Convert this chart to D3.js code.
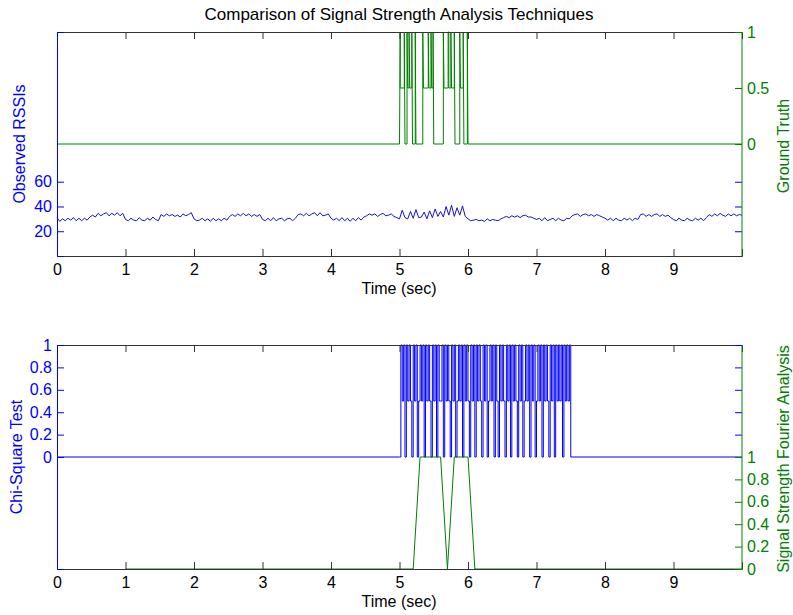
<!DOCTYPE html>
<html>
<head>
<meta charset="utf-8">
<script src="https://cdn.jsdelivr.net/npm/d3@7"></script>
<style>
html,body{margin:0;padding:0;background:#fff;}
svg{display:block;font-family:"Liberation Sans",Arial,sans-serif;}
</style>
</head>
<body>
<svg id="chart" width="793" height="615"></svg>
<script>
// ---------------- DATA ----------------
const titleText = "Comparison of Signal Strength Analysis Techniques";
const xLabel = "Time (sec)";
const xTicks = [0,1,2,3,4,5,6,7,8,9];

// Observed RSSI, sampled every 0.04 s from 0 to 10 s
const rssiStart = 0, rssiStep = 0.04;
const rssiValues = [
 31,28,30,28.5,30.5,29,31,28.5,30.5,28.5,30.5,29,31.5,
 33,31.5,34.5,32.5,34,35,32.5,34.5,33,35,32.5,34.5,
 29.5,28.5,30.5,29,28.5,31,29,28.5,30.5,29,31.5,29.5,28.5,
 33.5,32,34,32.5,33.5,32,33,31.5,34,32.5,33.5,35,
 30,28.5,29,30.5,28.5,30,28,30.5,28.5,30,28.5,30.5,29,
 32,33.5,32,34,32.5,34.5,32.5,34,32,33.5,32,33.5,
 29.5,28.5,30.5,28.5,31,28.5,30,30.5,28.5,30,30.5,28.5,30.5,
 33.5,34,32.5,34.5,32.5,34,35,32.5,35,32.5,33,34,
 30.5,29,30.5,28.5,31,28.5,30.5,28,30.5,28.5,31,29,31.5,
 32.5,34,33,34,32,33.5,34.5,32.5,33,34,32,31,
 30,37,31,30,36,30.5,37.5,31,31.5,35.5,30,36.5,31,38,32,36,31.5,40,33,41,32,39,33,40.5,32,
 30,28.5,29,29.5,28.5,29,28,30,28.5,29.5,29,28.5,30,
 31,32,31,32.5,31.5,32.5,31,32.5,33,31.5,31.5,30.5,
 29.5,30.5,28.5,31,28.5,29.5,30.5,28.5,30.5,29,28.5,30.5,30,
 32.5,33.5,34,32,33.5,34,32.5,33.5,32,33.5,32.5,31.5,
 30.5,29,30.5,28.5,30.5,29,28.5,30.5,29,30.5,28.5,30.5,29.5,
 33.5,34,32,33.5,32,33.5,34,32,33.5,32,33,31,
 29.5,28.5,30.5,29,28.5,30.5,29,28.5,30.5,29,30.5,28.5,31,
 33.5,32,34,32.5,34.5,33,32,34,32.5,34,32.5,33.5,33
];
const rssiTicks = [20,40,60];

// Ground truth (breakpoints)
const gtTimes = [0,5.00,5.01,5.01,5.07,5.07,5.08,5.11,5.11,5.12,5.14,5.14,5.15,5.18,5.18,5.19,5.23,5.23,5.24,5.34,5.34,5.35,5.42,5.42,5.43,5.46,5.46,5.47,5.49,5.49,5.50,5.64,5.64,5.65,5.71,5.71,5.72,5.72,5.75,5.75,5.76,5.80,5.80,5.81,5.88,5.88,5.89,5.93,5.93,5.94,5.99,5.99,6.00,10];
const gtValues = [0,0,1,0.5,0.5,1,0,0,1,0.5,0.5,1,0.5,0.5,1,0,0,1,0,0,1,0.5,0.5,1,0.5,0.5,1,0.5,0.5,1,0,0,1,0.5,0.5,1,1,0.5,0.5,1,0.5,0.5,1,0,0,1,0.5,0.5,1,0,0,1,0,0];
const gtTicks = [0,0.5,1];

// Chi-square test output, sampled every 0.02 s from 5.00 to 7.50 s (zero elsewhere)
const chiStart = 5.0, chiStep = 0.02;
const chiValues = [
 0,1,0.5,1,0,1,0.5,1,0.5,0,1,0.5,1,0,0.5,1,0.5,1,0,1,
 0.5,1,0.5,0,1,0.5,1,0,1,0.5,0.5,1,0,1,0.5,1,0.5,0,1,0.5,
 1,0,0.5,1,0.5,1,0,1,0.5,1,0.5,0,1,0.5,1,0,1,0.5,1,0.5,
 0,1,0.5,1,0,0.5,1,0.5,1,0,1,0.5,0,1,0.5,1,0.5,0,1,0.5,
 1,0,1,0.5,1,0.5,0,1,0.5,1,0,0.5,1,0.5,1,0,1,0.5,1,0,
 0.5,1,0.5,1,0,1,0.5,1,0.5,0,1,0.5,1,0,1,0.5,1,0.5,1,0,
 1,0.5,1,0.5,1,0
];
const chiTicks = [0,0.2,0.4,0.6,0.8,1];

// Signal strength Fourier analysis (starts at 1 s)
const fourierTimes = [1,5.2,5.3,5.6,5.7,5.8,6.0,6.1,10];
const fourierValues = [0,0,1,1,0,1,1,0,0];
const fourierTicks = [0,0.2,0.4,0.6,0.8,1];

// ---------------- DRAW ----------------
const BLUE = "#0000ff", GREEN = "#008000", FRAME = "#333";
const FS = 16;
const svg = d3.select("#chart");
const L = 57, R = 742;
const x = d3.scaleLinear().domain([0,10]).range([L,R]);
const TICK = 7;

svg.append("text").attr("x",399).attr("y",20).attr("text-anchor","middle")
  .attr("font-size",17).attr("fill","#000").text(titleText);

function panel(top, bottom, yL, yR, cfg){
  const g = svg.append("g");
  cfg.series.forEach(s=>{
    g.append("path").datum(s.pts)
      .attr("fill","none").attr("stroke",s.color).attr("stroke-width",s.w||1)
      .attr("d", d3.line().curve(s.curve||d3.curveLinear).x(d=>x(d[0])).y(d=>s.scale(d[1])));
  });
  const xb = g.append("g").attr("transform",`translate(0,${bottom})`)
    .call(d3.axisBottom(x).tickValues(xTicks).tickFormat(d3.format("d")).tickSize(-TICK).tickPadding(8));
  xb.select(".domain").attr("stroke",FRAME);
  xb.selectAll(".tick line").attr("stroke",FRAME);
  xb.selectAll("text").attr("font-size",FS).attr("fill","#000").attr("font-family","Liberation Sans, Arial, sans-serif");
  const xt = g.append("g").attr("transform",`translate(0,${top})`)
    .call(d3.axisTop(x).tickValues(xTicks).tickFormat("").tickSize(-TICK));
  xt.select(".domain").attr("stroke",FRAME);
  xt.selectAll(".tick line").attr("stroke",FRAME);
  const la = g.append("g").attr("transform",`translate(${L},0)`)
    .call(d3.axisLeft(yL).tickValues(cfg.lTicks).tickFormat(cfg.lFmt).tickSize(-TICK).tickPadding(5));
  la.select(".domain").attr("stroke",BLUE);
  la.selectAll(".tick line").attr("stroke",BLUE);
  la.selectAll("text").attr("font-size",FS).attr("fill",BLUE).attr("font-family","Liberation Sans, Arial, sans-serif");
  const lm = g.append("g").attr("transform",`translate(${R},0)`)
    .call(d3.axisRight(yL).tickValues(cfg.lTicks).tickFormat("").tickSize(-TICK));
  lm.select(".domain").remove();
  lm.selectAll(".tick line").attr("stroke",BLUE);
  const ra = g.append("g").attr("transform",`translate(${R},0)`)
    .call(d3.axisRight(yR).tickValues(cfg.rTicks).tickFormat(cfg.rFmt).tickSize(-TICK).tickPadding(5));
  ra.select(".domain").attr("stroke",GREEN).attr("d",`M0,${top}V${bottom}`);
  ra.selectAll(".tick line").attr("stroke",GREEN);
  ra.selectAll("text").attr("font-size",FS).attr("fill",GREEN).attr("font-family","Liberation Sans, Arial, sans-serif");
  svg.append("text").attr("transform",`translate(${cfg.lLabelX},${(top+bottom)/2}) rotate(-90)`)
    .attr("text-anchor","middle").attr("dominant-baseline","central")
    .attr("font-size",FS).attr("fill",BLUE).text(cfg.lLabel);
  svg.append("text").attr("transform",`translate(${cfg.rLabelX},${(top+bottom)/2+2}) rotate(-90)`)
    .attr("text-anchor","middle").attr("dominant-baseline","central")
    .attr("font-size",FS).attr("fill",GREEN).text(cfg.rLabel);
  svg.append("text").attr("x",399).attr("y",bottom+38).attr("text-anchor","middle")
    .attr("font-size",FS).attr("fill","#000").text(xLabel);
}

// top panel
const T1 = 32, B1 = 256;
const yRssi = d3.scaleLinear().domain([0,181]).range([B1,T1]);
const yGt = d3.scaleLinear().domain([-1,1]).range([B1,T1]);
const rssiPts = rssiValues.map((v,i)=>[rssiStart+i*rssiStep, v]);
const gtPts = gtTimes.map((t,i)=>[t,gtValues[i]]);
panel(T1,B1,yRssi,yGt,{
  series:[{pts:gtPts,scale:yGt,color:GREEN},{pts:rssiPts,scale:yRssi,color:"#1414c8"}],
  lTicks:rssiTicks, lFmt:d3.format("d"),
  rTicks:gtTicks, rFmt:d=>d===0.5?"0.5":String(d),
  lLabel:"Observed RSSIs", rLabel:"Ground Truth", lLabelX:19, rLabelX:783
});

// bottom panel
const T2 = 345, B2 = 569;
const yChi = d3.scaleLinear().domain([-1,1]).range([B2,T2]);
const yF = d3.scaleLinear().domain([0,2]).range([B2,T2]);
const chiPts = [[0,0]].concat(chiValues.map((v,i)=>[chiStart+i*chiStep, v])).concat([[10,0]]);
const fPts = fourierTimes.map((t,i)=>[t,fourierValues[i]]);
const fmt1 = d=>d===0?"0":(d===1?"1":d3.format(".1f")(d));
panel(T2,B2,yChi,yF,{
  series:[{pts:chiPts,scale:yChi,color:BLUE,curve:d3.curveStepAfter},{pts:fPts,scale:yF,color:GREEN}],
  lTicks:chiTicks, lFmt:fmt1,
  rTicks:fourierTicks, rFmt:fmt1,
  lLabel:"Chi-Square Test", rLabel:"Signal Strength Fourier Analysis", lLabelX:16, rLabelX:783
});
</script>
</body>
</html>
